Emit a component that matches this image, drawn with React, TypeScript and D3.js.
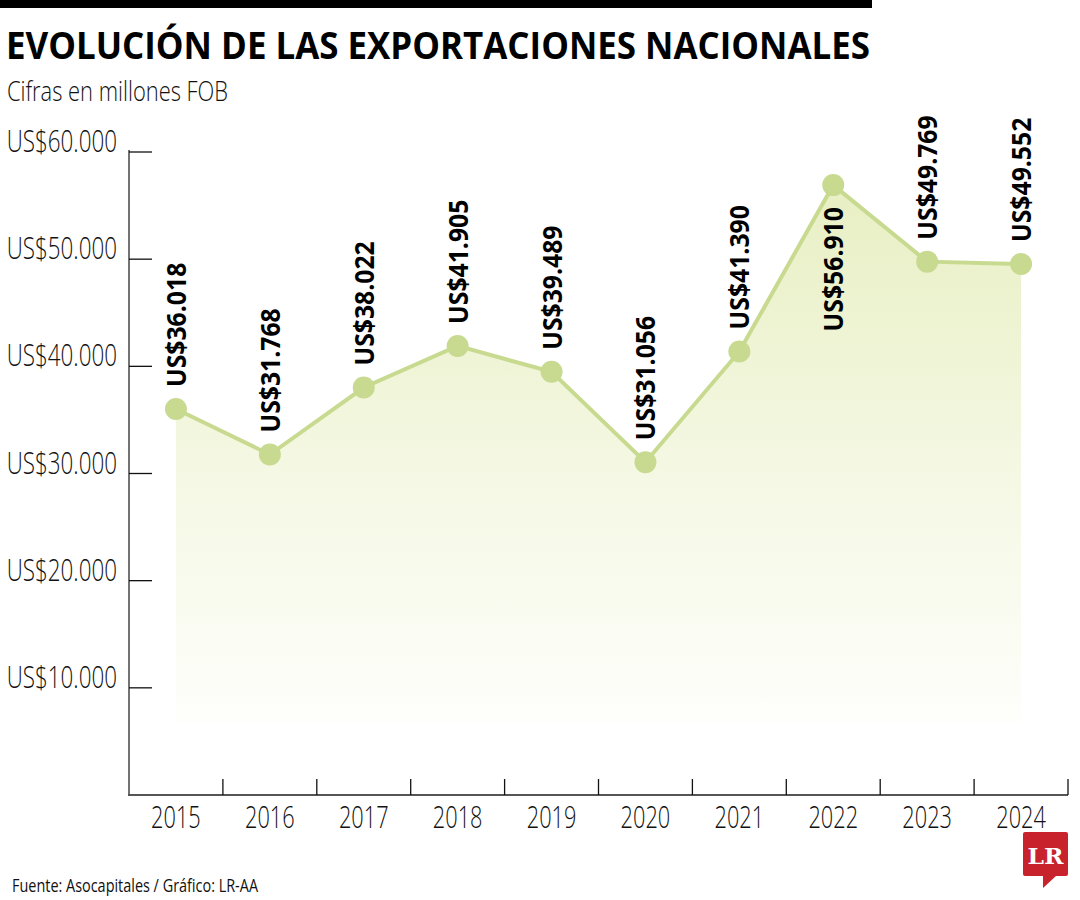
import React from "react";
import * as d3 from "d3";

const YEARS = ["2015", "2016", "2017", "2018", "2019", "2020", "2021", "2022", "2023", "2024"];
const VALUES = [36018, 31768, 38022, 41905, 39489, 31056, 41390, 56910, 49769, 49552];
const Y_TICKS = [10000, 20000, 30000, 40000, 50000, 60000];
const LABEL_BELOW = ["2022"];
const AREA_FLOOR = 6800;

const TITLE = "EVOLUCIÓN DE LAS EXPORTACIONES NACIONALES";
const SUBTITLE = "Cifras en millones FOB";
const SOURCE = "Fuente: Asocapitales / Gráfico: LR-AA";

const loc = d3.formatLocale({ decimal: ",", thousands: ".", grouping: [3], currency: ["US$", ""] });
const fmt = (v: number) => "US$" + loc.format(",")(v);

export default function App() {
  const W = 1080, H = 900;
  const x = d3.scaleBand<string>().domain(YEARS).range([129, 1068]);
  const y = d3.scaleLinear().domain([0, 60000]).range([795, 152]);
  const cx = (yr: string) => (x(yr) as number) + x.bandwidth() / 2;
  const pts = YEARS.map((yr, i) => ({ yr, v: VALUES[i] }));
  const line = d3.line<any>().x(d => cx(d.yr)).y(d => y(d.v));
  const area = d3.area<any>().x(d => cx(d.yr)).y0(y(AREA_FLOOR)).y1(d => y(d.v));
  const light = "'Open Sans', sans-serif";
  const green = "#c7da8f";

  return (
    <svg width={W} height={H} style={{ position: "absolute", left: 0, top: 0, background: "#fff" }}>
      <defs>
        <linearGradient id="ag" gradientUnits="userSpaceOnUse" x1="0" x2="0" y1={y(57000)} y2={y(AREA_FLOOR)}>
          <stop offset="0" stopColor="#e8efc3" />
          <stop offset="0.55" stopColor="#f5f8e4" />
          <stop offset="1" stopColor="#fefefb" />
        </linearGradient>
      </defs>
      <rect x={0} y={0} width={W} height={H} fill="#fff" />
      <rect x={0} y={0} width={872} height={8} fill="#000" />
      <text x={6} y={59} fontFamily={light} fontWeight={700} fontSize={37} textLength={864} lengthAdjust="spacingAndGlyphs" fill="#000">{TITLE}</text>
      <text x={7} y={101} fontFamily={light} fontWeight={300} fontSize={28} textLength={221} lengthAdjust="spacingAndGlyphs" fill="#111">{SUBTITLE}</text>

      <path d={area(pts) as string} fill="url(#ag)" />
      <path d={line(pts) as string} fill="none" stroke={green} strokeWidth={4} />
      {pts.map(p => (
        <circle key={p.yr} cx={cx(p.yr)} cy={y(p.v)} r={11} fill={green} />
      ))}
      {pts.map(p => {
        const below = LABEL_BELOW.includes(p.yr);
        return (
          <g key={"l" + p.yr} transform={`translate(${cx(p.yr)},${y(p.v)}) rotate(-90) translate(${below ? -22 : 22},0) scale(0.9,1)`}>
            <text x={0} y={10} textAnchor={below ? "end" : "start"} fontFamily={light} fontWeight={700} fontSize={27.5} fill="#000">{fmt(p.v)}</text>
          </g>
        );
      })}

      {/* y axis */}
      <line x1={129} x2={129} y1={y(60000) - 2} y2={795} stroke="#444" strokeWidth={1.5} />
      {Y_TICKS.map(t => (
        <g key={"yt" + t}>
          <line x1={129} x2={152} y1={y(t)} y2={y(t)} stroke="#111" strokeWidth={1.3} />
          <g transform={`translate(117,${y(t)}) scale(0.7,1)`}>
            <text x={0} y={0} textAnchor="end" fontFamily={light} fontWeight={300} fontSize={32} fill="#111">{fmt(t)}</text>
          </g>
        </g>
      ))}

      {/* x axis */}
      <line x1={128} x2={1068} y1={795} y2={795} stroke="#555" strokeWidth={1.8} />
      {YEARS.map(yr => (
        <g key={"xt" + yr}>
          <line x1={(x(yr) as number) + x.bandwidth()} x2={(x(yr) as number) + x.bandwidth()} y1={795} y2={779} stroke="#111" strokeWidth={1.3} />
          <g transform={`translate(${cx(yr)},828) scale(0.68,1)`}>
            <text x={0} y={0} textAnchor="middle" fontFamily={light} fontWeight={300} fontSize={32} fill="#111">{yr}</text>
          </g>
        </g>
      ))}

      <text x={12} y={892} fontFamily={light} fontWeight={400} fontSize={19} textLength={246} lengthAdjust="spacingAndGlyphs" fill="#111">{SOURCE}</text>

      {/* LR logo */}
      <g>
        <path d="M1025,832 h41 a2,2 0 0 1 2,2 v40 a2,2 0 0 1 -2,2 h-10 l-13,12 v-12 h-18 a2,2 0 0 1 -2,-2 v-40 a2,2 0 0 1 2,-2 z" fill="#c8232c" />
        <text x={1045.5} y={864} textAnchor="middle" fontFamily="'DejaVu Serif', 'Liberation Serif', serif" fontWeight={700} fontSize={22} fill="#fff" textLength={36} lengthAdjust="spacingAndGlyphs">LR</text>
      </g>
    </svg>
  );
}
